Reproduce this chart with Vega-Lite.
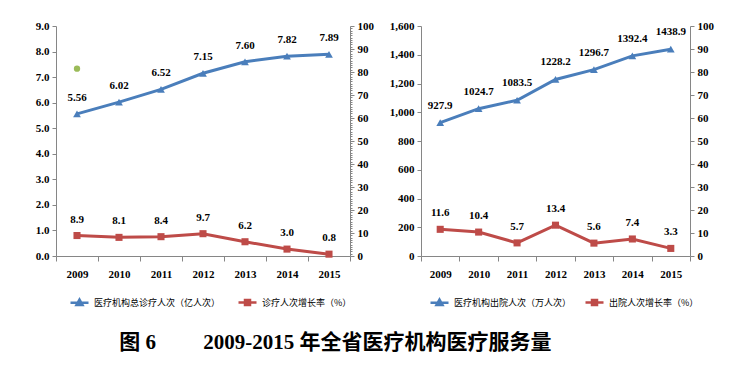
{
  "$schema": "https://vega.github.io/schema/vega-lite/v6.json",
  "background": "white",
  "padding": {"left": 35, "top": 20, "right": 5, "bottom": 5},
  "config": {
    "view": {"stroke": null},
    "font": "Liberation Sans Narrow",
    "axis": {
      "domainColor": "#868686", "tickColor": "#868686", "labelColor": "#000000",
      "labelFont": "Liberation Sans Narrow", "labelFontWeight": "bold", "labelFontSize": 11,
      "grid": false, "title": null, "tickSize": 4, "labelPadding": 3
    },
    "legend": {"labelFont": "Noto Sans CJK SC", "labelFontSize": 9, "labelColor": "#000000", "labelLimit": 400}
  },
  "title": {
    "text": "图 6\u2003\u2003 2009-2015 年全省医疗机构医疗服务量",
    "orient": "bottom", "anchor": "start", "dx": 84, "offset": 22,
    "font": "Liberation Serif, Noto Sans CJK SC", "fontSize": 21, "fontWeight": "bold", "color": "#000000"
  },
  "spacing": 15,
  "resolve": {"scale": {"color": "independent"}, "legend": {"color": "independent"}},
  "hconcat": [
    {
      "width": 294, "height": 230,
      "data": {"values": [
        {"year": "2009", "total": 5.56, "rate": 8.9},
        {"year": "2010", "total": 6.02, "rate": 8.1},
        {"year": "2011", "total": 6.52, "rate": 8.4},
        {"year": "2012", "total": 7.15, "rate": 9.7},
        {"year": "2013", "total": 7.60, "rate": 6.2},
        {"year": "2014", "total": 7.82, "rate": 3.0},
        {"year": "2015", "total": 7.89, "rate": 0.8}
      ]},
      "encoding": {
        "x": {"field": "year", "type": "ordinal", "scale": {"paddingInner": 0, "paddingOuter": 0},
              "axis": {"labelAngle": 0, "tickBand": "extent", "tickSize": 5, "labelPadding": 7}}
      },
      "layer": [
        {
          "layer": [
            {"mark": {"type": "line", "strokeWidth": 3},
             "encoding": {
               "y": {"field": "total", "type": "quantitative", "scale": {"domain": [0, 9]}, "axis": {"values": [0,1,2,3,4,5,6,7,8,9], "format": ".1f", "orient": "left"}},
               "color": {"datum": "医疗机构总诊疗人次（亿人次）", "type": "nominal",
                 "scale": {"domain": ["医疗机构总诊疗人次（亿人次）", "诊疗人次增长率（%）"], "range": ["#4A7EBB", "#BE4B48"]},
                 "legend": {"title": null, "orient": "none", "legendX": 17, "legendY": 270, "direction": "horizontal", "columnPadding": 12, "labelOffset": 8, "symbolSize": 100,
                   "encode": {"symbols": {"update": {
                     "shape": {"signal": "datum.index === 0 ? 'M-1.8,0H1.8M0,-0.6L0.6,0.45H-0.6Z' : 'M-1.8,0H1.8M-0.5,-0.5H0.5V0.5H-0.5Z'"},
                     "fill": {"signal": "datum.index === 0 ? '#4A7EBB' : '#BE4B48'"},
                     "stroke": {"signal": "datum.index === 0 ? '#4A7EBB' : '#BE4B48'"},
                     "strokeWidth": {"value": 2.5}, "opacity": {"value": 1}, "fillOpacity": {"value": 1}}}}}
               }
             }},
            {"mark": {"type": "point", "shape": "triangle-up", "filled": true, "size": 60, "opacity": 1},
             "encoding": {
               "y": {"field": "total", "type": "quantitative", "scale": {"domain": [0, 9]}, "axis": {"values": [0,1,2,3,4,5,6,7,8,9], "format": ".1f", "orient": "left"}},
               "color": {"datum": "医疗机构总诊疗人次（亿人次）", "type": "nominal"}
             }},
            {"mark": {"type": "text", "dy": -16, "font": "Liberation Sans Narrow", "fontWeight": "bold", "fontSize": 11, "color": "#000000"},
             "encoding": {
               "y": {"field": "total", "type": "quantitative", "scale": {"domain": [0, 9]}, "axis": {"values": [0,1,2,3,4,5,6,7,8,9], "format": ".1f", "orient": "left"}},
               "text": {"field": "total", "type": "quantitative", "format": ".2f"}
             }},
            {"data": {"values": [{"year": "2009", "v": 7.33}]},
             "mark": {"type": "circle", "color": "#9BBB59", "size": 40, "opacity": 1},
             "encoding": {
               "y": {"field": "v", "type": "quantitative", "scale": {"domain": [0, 9]}, "axis": {"values": [0,1,2,3,4,5,6,7,8,9], "format": ".1f", "orient": "left"}}
             }}
          ]
        },
        {
          "layer": [
            {"mark": {"type": "line", "strokeWidth": 3},
             "encoding": {
               "y": {"field": "rate", "type": "quantitative", "scale": {"domain": [0, 100]},
                     "axis": {"orient": "right", "values": [0,1,2,3,4,5,6,7,8,9,10,11,12,13,14,15,16,17,18,19,20,21,22,23,24,25,26,27,28,29,30,31,32,33,34,35,36,37,38,39,40,41,42,43,44,45,46,47,48,49,50,51,52,53,54,55,56,57,58,59,60,61,62,63,64,65,66,67,68,69,70,71,72,73,74,75,76,77,78,79,80,81,82,83,84,85,86,87,88,89,90,91,92,93,94,95,96,97,98,99,100],
                              "labelExpr": "datum.value % 10 === 0 ? datum.label : ''",
                              "tickSize": {"condition": {"test": "datum.value % 10 === 0", "value": 4}, "value": 2},
                              "labelOverlap": false}},
               "color": {"datum": "诊疗人次增长率（%）", "type": "nominal"}
             }},
            {"mark": {"type": "point", "shape": "square", "filled": true, "size": 50, "opacity": 1},
             "encoding": {
               "y": {"field": "rate", "type": "quantitative", "scale": {"domain": [0, 100]},
                     "axis": {"orient": "right", "values": [0,1,2,3,4,5,6,7,8,9,10,11,12,13,14,15,16,17,18,19,20,21,22,23,24,25,26,27,28,29,30,31,32,33,34,35,36,37,38,39,40,41,42,43,44,45,46,47,48,49,50,51,52,53,54,55,56,57,58,59,60,61,62,63,64,65,66,67,68,69,70,71,72,73,74,75,76,77,78,79,80,81,82,83,84,85,86,87,88,89,90,91,92,93,94,95,96,97,98,99,100],
                              "labelExpr": "datum.value % 10 === 0 ? datum.label : ''",
                              "tickSize": {"condition": {"test": "datum.value % 10 === 0", "value": 4}, "value": 2},
                              "labelOverlap": false}},
               "color": {"datum": "诊疗人次增长率（%）", "type": "nominal"}
             }},
            {"mark": {"type": "text", "dy": -16, "font": "Liberation Sans Narrow", "fontWeight": "bold", "fontSize": 11, "color": "#000000"},
             "encoding": {
               "y": {"field": "rate", "type": "quantitative", "scale": {"domain": [0, 100]},
                     "axis": {"orient": "right", "values": [0,1,2,3,4,5,6,7,8,9,10,11,12,13,14,15,16,17,18,19,20,21,22,23,24,25,26,27,28,29,30,31,32,33,34,35,36,37,38,39,40,41,42,43,44,45,46,47,48,49,50,51,52,53,54,55,56,57,58,59,60,61,62,63,64,65,66,67,68,69,70,71,72,73,74,75,76,77,78,79,80,81,82,83,84,85,86,87,88,89,90,91,92,93,94,95,96,97,98,99,100],
                              "labelExpr": "datum.value % 10 === 0 ? datum.label : ''",
                              "tickSize": {"condition": {"test": "datum.value % 10 === 0", "value": 4}, "value": 2},
                              "labelOverlap": false}},
               "text": {"field": "rate", "type": "quantitative", "format": ".1f"}
             }}
          ]
        }
      ],
      "resolve": {"scale": {"y": "independent"}}
    },
    {
      "width": 269, "height": 230,
      "data": {"values": [
        {"year": "2009", "total": 927.9, "rate": 11.6},
        {"year": "2010", "total": 1024.7, "rate": 10.4},
        {"year": "2011", "total": 1083.5, "rate": 5.7},
        {"year": "2012", "total": 1228.2, "rate": 13.4},
        {"year": "2013", "total": 1296.7, "rate": 5.6},
        {"year": "2014", "total": 1392.4, "rate": 7.4},
        {"year": "2015", "total": 1438.9, "rate": 3.3}
      ]},
      "encoding": {
        "x": {"field": "year", "type": "ordinal", "scale": {"paddingInner": 0, "paddingOuter": 0},
              "axis": {"labelAngle": 0, "tickBand": "extent", "tickSize": 5, "labelPadding": 7}}
      },
      "layer": [
        {
          "layer": [
            {"mark": {"type": "line", "strokeWidth": 3},
             "encoding": {
               "y": {"field": "total", "type": "quantitative", "scale": {"domain": [0, 1600]}, "axis": {"values": [0,200,400,600,800,1000,1200,1400,1600], "format": ",d", "orient": "left"}},
               "color": {"datum": "医疗机构出院人次（万人次）", "type": "nominal",
                 "scale": {"domain": ["医疗机构出院人次（万人次）", "出院人次增长率（%）"], "range": ["#4A7EBB", "#BE4B48"]},
                 "legend": {"title": null, "orient": "none", "legendX": 12, "legendY": 270, "direction": "horizontal", "columnPadding": 8, "labelOffset": 8, "symbolSize": 100,
                   "encode": {"symbols": {"update": {
                     "shape": {"signal": "datum.index === 0 ? 'M-1.8,0H1.8M0,-0.6L0.6,0.45H-0.6Z' : 'M-1.8,0H1.8M-0.5,-0.5H0.5V0.5H-0.5Z'"},
                     "fill": {"signal": "datum.index === 0 ? '#4A7EBB' : '#BE4B48'"},
                     "stroke": {"signal": "datum.index === 0 ? '#4A7EBB' : '#BE4B48'"},
                     "strokeWidth": {"value": 2.5}, "opacity": {"value": 1}, "fillOpacity": {"value": 1}}}}}
               }
             }},
            {"mark": {"type": "point", "shape": "triangle-up", "filled": true, "size": 60, "opacity": 1},
             "encoding": {
               "y": {"field": "total", "type": "quantitative", "scale": {"domain": [0, 1600]}, "axis": {"values": [0,200,400,600,800,1000,1200,1400,1600], "format": ",d", "orient": "left"}},
               "color": {"datum": "医疗机构出院人次（万人次）", "type": "nominal"}
             }},
            {"mark": {"type": "text", "dy": -17, "font": "Liberation Sans Narrow", "fontWeight": "bold", "fontSize": 11, "color": "#000000"},
             "encoding": {
               "y": {"field": "total", "type": "quantitative", "scale": {"domain": [0, 1600]}, "axis": {"values": [0,200,400,600,800,1000,1200,1400,1600], "format": ",d", "orient": "left"}},
               "text": {"field": "total", "type": "quantitative", "format": ".1f"}
             }}
          ]
        },
        {
          "layer": [
            {"mark": {"type": "line", "strokeWidth": 3},
             "encoding": {
               "y": {"field": "rate", "type": "quantitative", "scale": {"domain": [0, 100]},
                     "axis": {"orient": "right", "values": [0,10,20,30,40,50,60,70,80,90,100]}},
               "color": {"datum": "出院人次增长率（%）", "type": "nominal"}
             }},
            {"mark": {"type": "point", "shape": "square", "filled": true, "size": 50, "opacity": 1},
             "encoding": {
               "y": {"field": "rate", "type": "quantitative", "scale": {"domain": [0, 100]},
                     "axis": {"orient": "right", "values": [0,10,20,30,40,50,60,70,80,90,100]}},
               "color": {"datum": "出院人次增长率（%）", "type": "nominal"}
             }},
            {"mark": {"type": "text", "dy": -16, "font": "Liberation Sans Narrow", "fontWeight": "bold", "fontSize": 11, "color": "#000000"},
             "encoding": {
               "y": {"field": "rate", "type": "quantitative", "scale": {"domain": [0, 100]},
                     "axis": {"orient": "right", "values": [0,10,20,30,40,50,60,70,80,90,100]}},
               "text": {"field": "rate", "type": "quantitative", "format": ".1f"}
             }}
          ]
        }
      ],
      "resolve": {"scale": {"y": "independent"}}
    }
  ]
}
